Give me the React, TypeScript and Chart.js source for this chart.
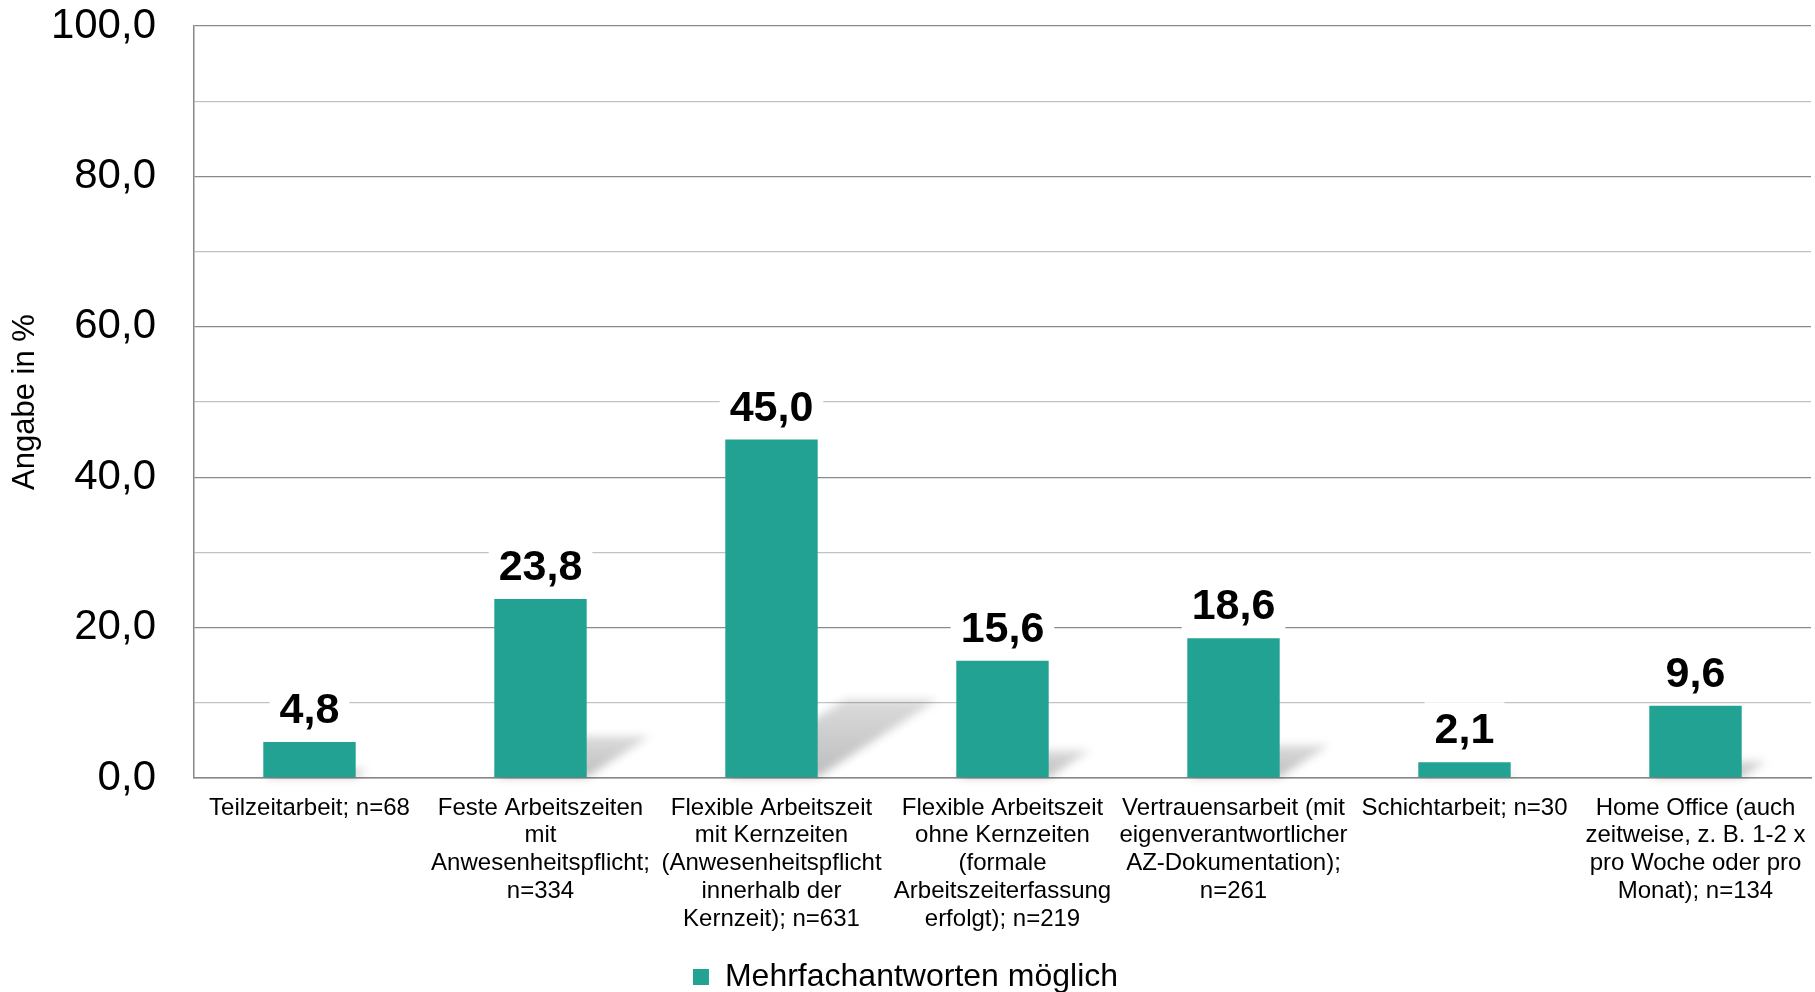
import { useEffect, useRef } from "react";
import { Chart, registerables } from "chart.js";

Chart.register(...registerables);

const FONT = '"Liberation Sans", Arial, Helvetica, sans-serif';

const categories: string[][] = [
  ["Teilzeitarbeit; n=68"],
  ["Feste Arbeitszeiten", "mit", "Anwesenheitspflicht;", "n=334"],
  ["Flexible Arbeitszeit", "mit Kernzeiten", "(Anwesenheitspflicht", "innerhalb der", "Kernzeit); n=631"],
  ["Flexible Arbeitszeit", "ohne Kernzeiten", "(formale", "Arbeitszeiterfassung", "erfolgt); n=219"],
  ["Vertrauensarbeit (mit", "eigenverantwortlicher", "AZ-Dokumentation);", "n=261"],
  ["Schichtarbeit; n=30"],
  ["Home Office (auch", "zeitweise, z. B. 1-2 x", "pro Woche oder pro", "Monat); n=134"],
];

const shares: number[] = [4.8, 23.8, 45.0, 15.6, 18.6, 2.1, 9.6];

const seriesName = "Mehrfachantworten möglich";
const axisTitle = "Angabe in %";

const BAR_COLOR = "#22a292";

const fmt = (v: number) => v.toFixed(1).replace(".", ",");

// Soft perspective shadow cast by each bar onto the floor, to the upper right.
const barShadow = {
  id: "barShadow",
  beforeDatasetsDraw(chart: any) {
    const { ctx } = chart;
    const meta = chart.getDatasetMeta(0);
    ctx.save();
    meta.data.forEach((bar: any) => {
      const { x, y, base, width } = bar.getProps(["x", "y", "base", "width"], true);
      const h = base - y;
      const dx = h * 0.354;
      const dy = h * 0.23;
      const left = x - width / 2;
      const right = x + width / 2;
      const g = ctx.createLinearGradient(0, base, 0, base - dy);
      g.addColorStop(0, "rgba(0,0,0,0.26)");
      g.addColorStop(1, "rgba(0,0,0,0.14)");
      ctx.filter = "blur(4px)";
      ctx.fillStyle = g;
      ctx.beginPath();
      ctx.moveTo(left, base);
      ctx.lineTo(right, base);
      ctx.lineTo(right + dx, base - dy);
      ctx.lineTo(left + dx, base - dy);
      ctx.closePath();
      ctx.fill();
    });
    ctx.restore();
  },
};

// Bold value labels above the bars on a white backing.
const valueLabels = {
  id: "valueLabels",
  afterDatasetsDraw(chart: any) {
    const { ctx } = chart;
    const meta = chart.getDatasetMeta(0);
    const values = chart.data.datasets[0].data as number[];
    ctx.save();
    ctx.font = `bold 43px ${FONT}`;
    ctx.textAlign = "center";
    ctx.textBaseline = "alphabetic";
    meta.data.forEach((bar: any, i: number) => {
      const { x, y } = bar.getProps(["x", "y"], true);
      const text = fmt(values[i]);
      const w = ctx.measureText(text).width;
      const baseline = y - 19;
      ctx.fillStyle = "#ffffff";
      ctx.fillRect(x - w / 2 - 10, baseline - 41, w + 20, 51);
      ctx.fillStyle = "#000000";
      ctx.fillText(text, x, baseline);
    });
    ctx.restore();
  },
};

export default function App() {
  const canvasRef = useRef<HTMLCanvasElement | null>(null);

  useEffect(() => {
    if (!canvasRef.current) return;
    const chart = new Chart(canvasRef.current, {
      type: "bar",
      data: {
        labels: categories,
        datasets: [
          {
            label: seriesName,
            data: shares,
            backgroundColor: BAR_COLOR,
            borderWidth: 0,
            categoryPercentage: 1,
            barPercentage: 0.4,
          },
        ],
      },
      options: {
        animation: false,
        responsive: true,
        maintainAspectRatio: false,
        layout: { padding: { left: 0, right: 4, top: 26, bottom: -11 } },
        plugins: {
          legend: {
            position: "bottom",
            labels: {
              font: { family: FONT, size: 32 },
              color: "#000",
              boxWidth: 16,
              boxHeight: 16,
              padding: 1,
            },
          },
          tooltip: { enabled: false },
        },
        scales: {
          x: {
            grid: { display: false, drawTicks: false },
            border: { color: "#878787", width: 1.5 },
            ticks: {
              color: "#000",
              font: { family: FONT, size: 24, lineHeight: 1.16 },
              padding: 16,
              maxRotation: 0,
              minRotation: 0,
              autoSkip: false,
            },
            afterFit(scale: any) {
              scale.height = 182;
              scale.paddingLeft = 0;
              scale.paddingRight = 0;
            },
          },
          y: {
            min: 0,
            max: 100,
            grid: {
              drawTicks: false,
              color: (c: any) => (c.tick && c.tick.value % 20 === 0 ? "#8a8a8a" : "#c2c2c2"),
              lineWidth: 1.3,
            },
            border: { color: "#878787", width: 1.5 },
            ticks: {
              stepSize: 10,
              color: "#000",
              font: { family: FONT, size: 42 },
              padding: 38,
              callback: (v: any) => (Number(v) % 20 === 0 ? fmt(Number(v)) : ""),
            },
            title: {
              display: true,
              text: axisTitle,
              color: "#000",
              font: { family: FONT, size: 31 },
              padding: { top: 7, bottom: 0 },
            },
            afterFit(scale: any) {
              scale.width = 194;
              scale.paddingTop = 0;
              scale.paddingBottom = 0;
            },
          },
        },
      },
      plugins: [barShadow, valueLabels],
    });
    return () => chart.destroy();
  }, []);

  return (
    <div
      style={{
        position: "fixed",
        left: 0,
        top: 0,
        width: 1815,
        height: 992,
        background: "#ffffff",
      }}
    >
      <canvas ref={canvasRef} />
    </div>
  );
}
